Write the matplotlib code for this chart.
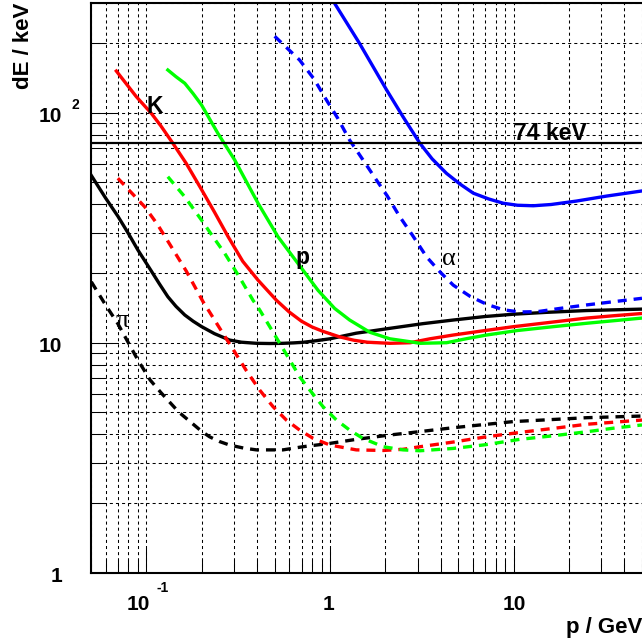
import numpy as np
import matplotlib
matplotlib.use("Agg")
import matplotlib.pyplot as plt
from matplotlib.ticker import LogLocator, NullFormatter, FixedLocator
from matplotlib.transforms import ScaledTranslation

plt.rcParams["font.family"] = ["Liberation Sans", "DejaVu Sans"]
plt.rcParams["lines.scale_dashes"] = False

# energy loss curves (p in GeV, dE in keV)
pi_solid_p = [0.050, 0.060, 0.070, 0.080, 0.090, 0.1065, 0.118, 0.131, 0.145, 0.162, 0.180, 0.200, 0.235, 0.284,
              0.330, 0.398, 0.470, 0.555, 0.630, 0.713, 0.840, 1.00, 1.39, 2.12, 3.20, 4.69, 7.00, 9.96, 15.0, 25.0, 50.0]
pi_solid_dE = [53.6, 42.6, 35.5, 29.8, 25.3, 20.5, 18.0, 15.85, 14.4, 13.2, 12.4, 11.75, 10.95, 10.27,
               10.05, 9.94, 9.92, 9.94, 9.98, 10.04, 10.2, 10.4, 11.0, 11.55, 12.1, 12.55, 13.0, 13.3, 13.55, 13.8, 14.0]

k_solid_p = [0.0687, 0.0882, 0.1065, 0.120, 0.1396, 0.165, 0.200, 0.235, 0.279, 0.335, 0.406, 0.511, 0.600, 0.700,
             0.800, 0.917, 1.13, 1.35, 1.60, 2.12, 2.73, 3.50, 4.69, 7.00, 9.96, 15.0, 25.0, 35.0, 50.0]
k_solid_dE = [151.8, 117.5, 99.4, 87.7, 73.6, 60.2, 46.3, 37.0, 28.9, 22.6, 18.7, 15.3, 13.6, 12.4,
              11.7, 11.2, 10.6, 10.25, 10.05, 9.94, 10.0, 10.4, 10.8, 11.3, 11.74, 12.2, 12.8, 13.1, 13.4]

p_solid_p = [0.131, 0.145, 0.162, 0.180, 0.200, 0.2455, 0.303, 0.406, 0.521, 0.670, 0.861, 1.06, 1.28, 1.65,
             2.12, 2.73, 3.09, 4.31, 5.50, 7.12, 10.5, 16.4, 25.0, 50.0]
p_solid_dE = [153.4, 143.5, 134.3, 121.0, 108.0, 81.3, 62.3, 40.4, 28.9, 22.1, 16.9, 14.1, 12.55, 11.1,
              10.4, 10.1, 9.94, 10.0, 10.4, 10.8, 11.3, 11.74, 12.15, 12.8]

a_solid_p = [1.06, 1.45, 2.03, 2.50, 3.09, 3.60, 4.31, 5.10, 6.03, 7.30, 8.79, 10.5, 12.8, 16.0, 22.0, 32.0, 50.0]
a_solid_dE = [299, 200, 126, 96.0, 73.6, 63.0, 54.5, 49.0, 44.7, 42.2, 40.4, 39.6, 39.4, 39.9, 41.3, 43.4, 45.7]

pi_dash_p = [0.0502, 0.060, 0.070, 0.090, 0.105, 0.121, 0.150, 0.200, 0.221, 0.250, 0.284, 0.340, 0.398, 0.555,
             0.713, 1.00, 1.39, 2.12, 2.73, 4.69, 9.96, 25.0, 50.0]
pi_dash_dE = [18.4, 14.6, 12.1, 8.41, 6.88, 6.03, 5.0, 4.12, 3.90, 3.72, 3.59, 3.48, 3.42, 3.42,
              3.53, 3.65, 3.80, 3.97, 4.06, 4.27, 4.54, 4.72, 4.80]

k_dash_p = [0.070, 0.083, 0.098, 0.115, 0.137, 0.165, 0.2035, 0.221, 0.261, 0.297, 0.351, 0.414, 0.490, 0.579,
            0.684, 0.809, 1.00, 1.39, 1.95, 2.50, 3.09, 4.70, 7.12, 11.0, 16.4, 25.0, 50.0]
k_dash_dE = [51.9, 44.9, 39.0, 32.7, 26.1, 20.5, 15.1, 13.6, 11.0, 9.35, 7.55, 6.23, 5.27, 4.61,
             4.17, 3.84, 3.59, 3.42, 3.40, 3.44, 3.53, 3.70, 3.90, 4.08, 4.24, 4.42, 4.61]

p_dash_p = [0.131, 0.162, 0.200, 0.230, 0.267, 0.320, 0.381, 0.414, 0.470, 0.533, 0.604, 0.684, 0.776, 0.917,
            1.085, 1.28, 1.51, 1.95, 2.50, 3.09, 4.69, 7.00, 10.8, 16.0, 25.0, 35.0, 50.0]
p_dash_dE = [52.7, 43.1, 34.1, 29.0, 24.5, 19.4, 15.3, 13.9, 11.75, 9.94, 8.41, 7.11, 6.23, 5.27,
             4.61, 4.17, 3.84, 3.53, 3.42, 3.39, 3.47, 3.60, 3.80, 3.93, 4.10, 4.25, 4.39]

a_dash_p = [0.50, 0.684, 0.820, 0.957, 1.10, 1.28, 1.50, 1.79, 2.05, 2.40, 2.80, 3.36, 4.00, 4.69, 5.80, 7.12,
            8.80, 10.8, 13.5, 17.9, 25.0, 50.0]
a_dash_dE = [215, 169.4, 139.9, 113.6, 94.9, 76.0, 63.0, 51.0, 43.5, 35.3, 29.5, 23.6, 20.2, 17.8, 15.9, 14.7,
             13.9, 13.6, 13.65, 14.1, 14.6, 15.6]

threshold = 74  # keV

fig = plt.figure(figsize=(6.42, 6.44), dpi=100)
ax = fig.add_axes([91 / 642, 71.3 / 644, 551 / 642, 569.7 / 644])
ax.set_xscale("log")
ax.set_yscale("log")
ax.set_xlim(0.05, 50)
ax.set_ylim(1, 300)

# grid on every major and minor tick, like ROOT
ax.xaxis.set_major_locator(FixedLocator([0.1, 1, 10]))
ax.yaxis.set_major_locator(FixedLocator([1, 10, 100]))
ax.xaxis.set_minor_locator(LogLocator(base=10, subs=np.arange(2, 10)))
ax.yaxis.set_minor_locator(LogLocator(base=10, subs=np.arange(2, 10)))
ax.xaxis.set_major_formatter(NullFormatter())
ax.yaxis.set_major_formatter(NullFormatter())
ax.xaxis.set_minor_formatter(NullFormatter())
ax.yaxis.set_minor_formatter(NullFormatter())
ax.grid(which="both", color="black", linewidth=0.75, dashes=(2.2, 2.2))
ax.set_axisbelow(True)
ax.tick_params(which="both", direction="in", width=0.75, top=False, right=False)
ax.tick_params(which="major", length=18)
ax.tick_params(which="minor", length=9.4)
for s in ["left", "bottom", "top"]:
    ax.spines[s].set_linewidth(1.5)
ax.spines["right"].set_visible(False)

lw = 2.4
dash = (0, (6.5, 5))
ax.plot(pi_solid_p, pi_solid_dE, color="black", lw=lw)
ax.plot(pi_dash_p, pi_dash_dE, color="black", lw=lw, linestyle=dash)
ax.plot(k_solid_p, k_solid_dE, color="#ff0000", lw=lw)
ax.plot(k_dash_p, k_dash_dE, color="#ff0000", lw=lw, linestyle=dash)
ax.plot(p_solid_p, p_solid_dE, color="#00ff00", lw=lw)
ax.plot(p_dash_p, p_dash_dE, color="#00ff00", lw=lw, linestyle=dash)
ax.plot(a_solid_p, a_solid_dE, color="#0000ff", lw=lw)
ax.plot(a_dash_p, a_dash_dE, color="#0000ff", lw=lw, linestyle=dash)
ax.axhline(threshold, color="black", lw=1.6)

# curve labels
ax.text(0.111, 99.4, "K", fontsize=16.5, fontweight="bold", ha="center", va="baseline")
ax.text(0.706, 22.1, "p", fontsize=16.5, fontweight="bold", ha="center", va="baseline")
ax.text(4.44, 21.8, "α", fontsize=19, family="Liberation Serif", ha="center", va="baseline")
ax.text(0.0743, 11.7, "π", fontsize=19, family="Liberation Serif", ha="center", va="baseline")
ax.text(10.0, 76.1, "74 keV", fontsize=16.5, fontweight="bold", ha="left", va="baseline")


def px(dx, dy):
    return ScaledTranslation(dx / 100, dy / 100, fig.dpi_scale_trans)


# tick labels drawn by hand (ROOT style 10^n)
ytr = ax.get_yaxis_transform()
xtr = ax.get_xaxis_transform()
lab = dict(fontsize=15, fontweight="bold")
for v, s in [(1, "1"), (10, "10"), (100, "10")]:
    ax.text(0, v, s, transform=ytr + px(-28.5, -9.5), ha="right", va="baseline", **lab)
ax.text(0, 100, "2", transform=ytr + px(-19, 3.7), ha="left", va="baseline", fontsize=10, fontweight="bold")

ax.text(0.1, 0, "10", transform=xtr + px(3.3, -37.3), ha="right", va="baseline", **lab)
ax.text(0.1, 0, "-1", transform=xtr + px(10.3, -19), ha="left", va="baseline", fontsize=10, fontweight="bold")
ax.text(1, 0, "1", transform=xtr + px(-1, -37.3), ha="center", va="baseline", **lab)
ax.text(10, 0, "10", transform=xtr + px(0.5, -37.3), ha="center", va="baseline", **lab)

fig.text(24 / 642, 1 - 3 / 644, "dE / keV", rotation=90, ha="center", va="top", fontsize=16, fontweight="bold")
fig.text(1.0, 11 / 644, "p / GeV", ha="right", va="baseline", fontsize=16, fontweight="bold")

fig.savefig("out.png", dpi=100)
